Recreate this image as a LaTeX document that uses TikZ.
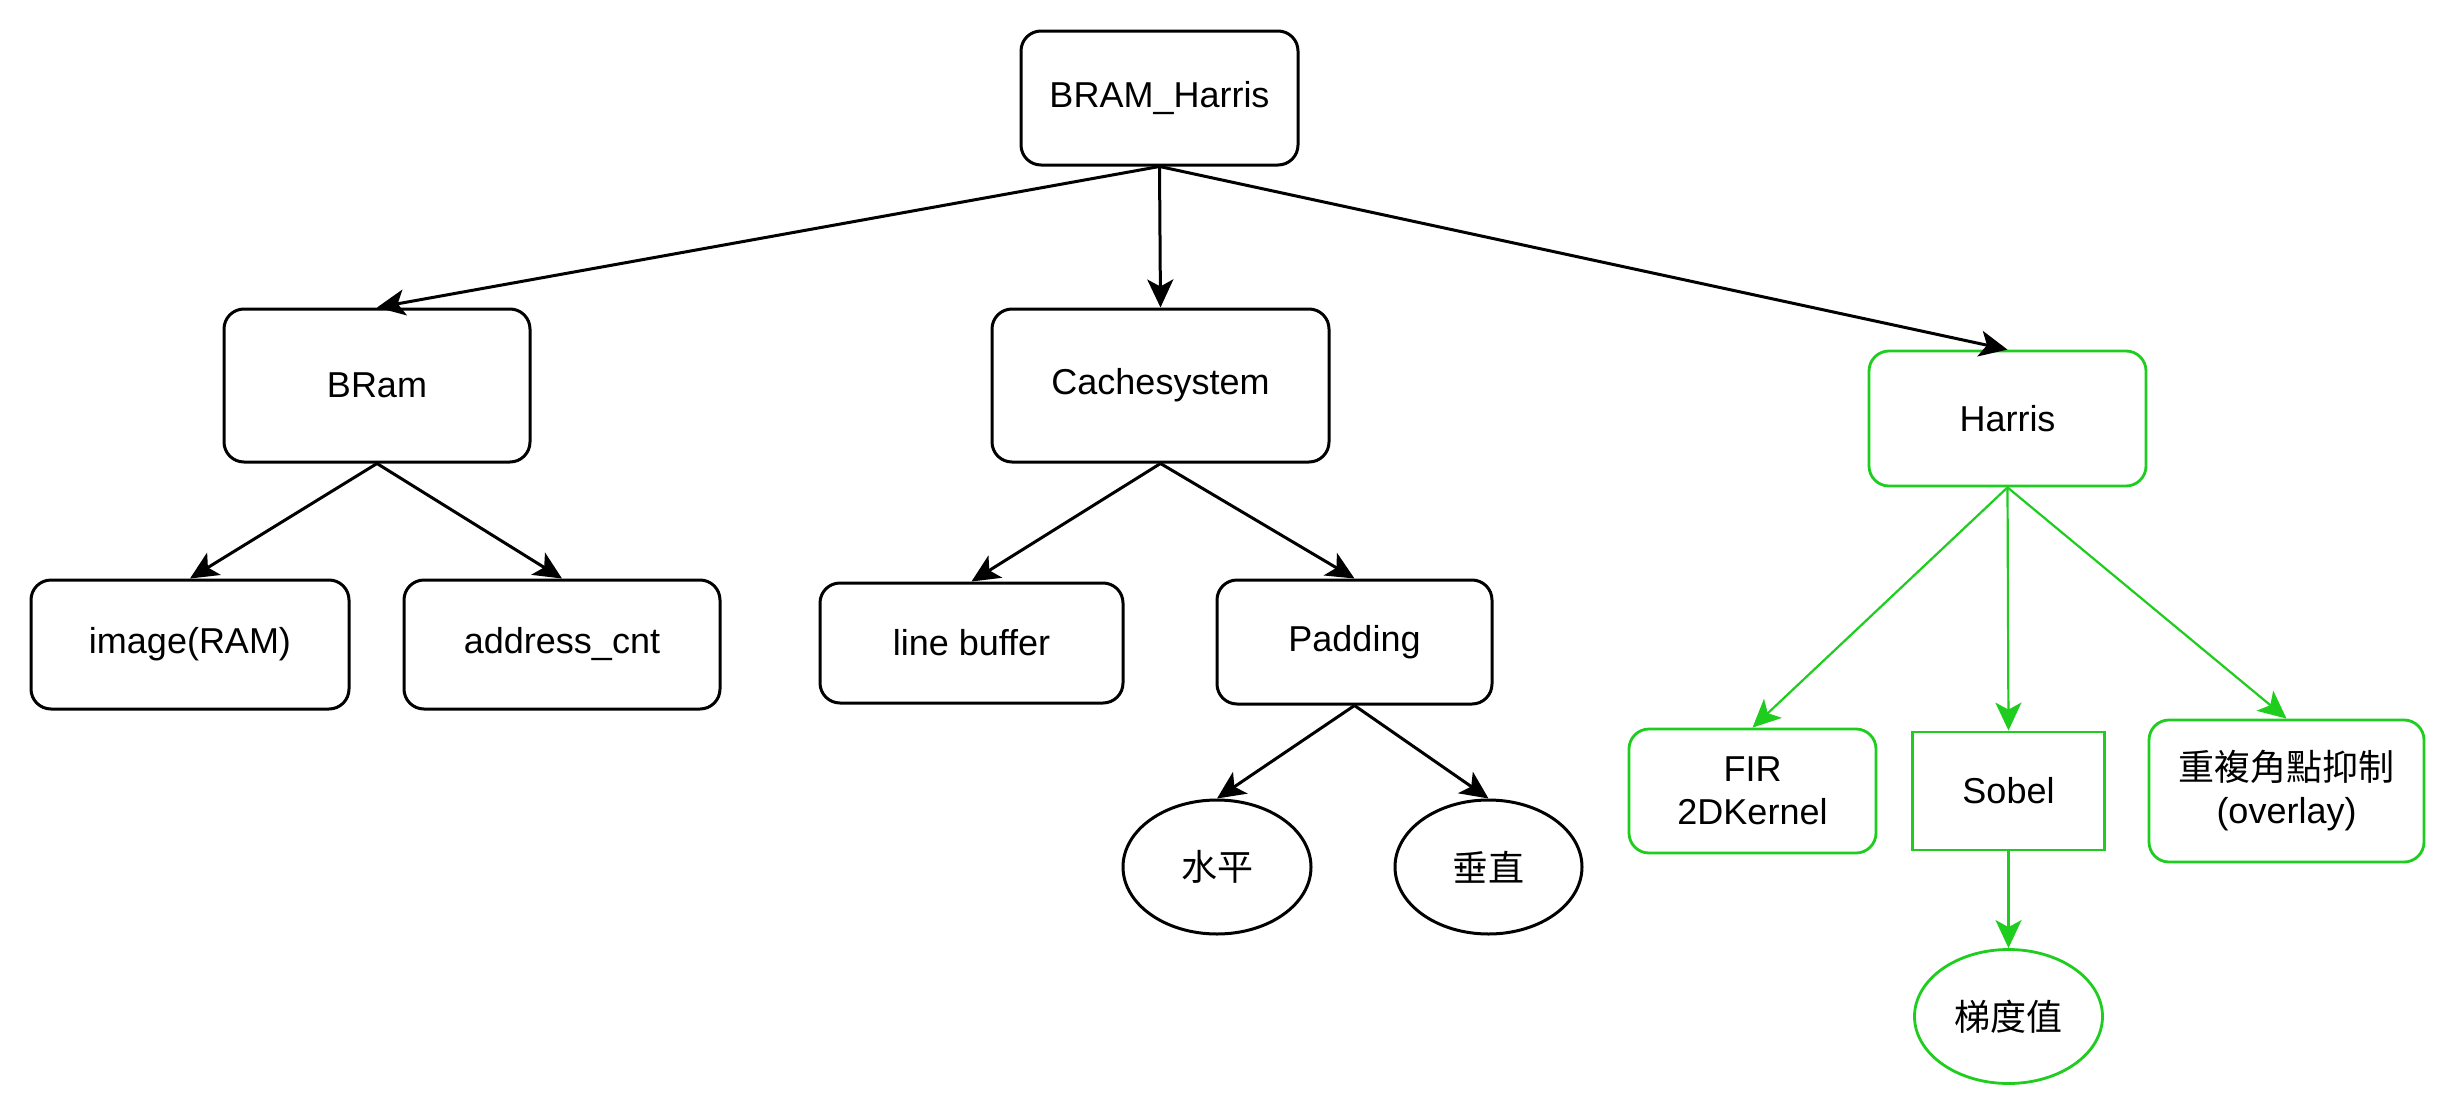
\documentclass[tikz,border=0pt]{standalone}
\usepackage{fontspec}
\setmainfont{Liberation Sans}
\newfontfamily\cjk{Noto Sans CJK TC}
\usetikzlibrary{arrows.meta,shapes.geometric}
\definecolor{hgreen}{RGB}{30,205,30}
\tikzset{
  base/.style={font=\fontsize{18}{21.5}\selectfont, align=center, inner sep=0pt, text=black},
  rbox/.style={base, draw=black, line width=1.5pt, rounded corners=10pt},
  gbox/.style={base, draw=hgreen, line width=1.4pt, rounded corners=10pt},
  gsq/.style={base, draw=hgreen, line width=1.4pt},
  bell/.style={base, ellipse, draw=black, line width=1.5pt},
  gell/.style={base, ellipse, draw=hgreen, line width=1.4pt},
  barrow/.style={draw=black, line width=1.5pt, -{Stealth[length=14pt,width=13pt,inset=3.5pt]}},
  garrow/.style={draw=hgreen, line width=1.1pt, -{Stealth[length=14pt,width=13pt,inset=3.5pt]}},
}
\begin{document}
\begin{tikzpicture}[x=0.5pt,y=-0.5pt]
\useasboundingbox (0,0) rectangle (2459,1119);
\node[rbox, minimum width=138.5pt, minimum height=67pt] (top) at (1159.5,98) {BRAM\_Harris};
\node[rbox, minimum width=153pt, minimum height=76.5pt] (bram) at (377,385.5) {BRam};
\node[rbox, minimum width=168.5pt, minimum height=76.5pt] (cache) at (1160.5,385.5) {Cachesystem};
\node[gbox, minimum width=138.5pt, minimum height=67.5pt] (harris) at (2007.5,418.5) {Harris};
\node[rbox, minimum width=159pt, minimum height=64.5pt] (img) at (190,644.5) {image(RAM)};
\node[rbox, minimum width=158pt, minimum height=64.5pt] (addr) at (562,644.5) {address\_cnt};
\node[rbox, minimum width=151.5pt, minimum height=60pt] (lbuf) at (971.5,643) {line buffer};
\node[rbox, minimum width=137.5pt, minimum height=62pt] (pad) at (1354.5,642) {Padding};
\node[bell, minimum width=94pt, minimum height=67pt] (hor) at (1217,867) {\cjk 水平};
\node[bell, minimum width=93.5pt, minimum height=67pt] (ver) at (1488.5,867) {\cjk 垂直};
\node[gbox, minimum width=123.5pt, minimum height=62pt] (fir) at (1752.5,791) {FIR\\2DKernel};
\node[gsq, minimum width=96pt, minimum height=59pt] (sobel) at (2008.5,791) {Sobel};
\node[gbox, minimum width=137.5pt, minimum height=71pt] (nms) at (2286.5,791) {{\cjk 重複角點抑制}\\(overlay)};
\node[gell, minimum width=94pt, minimum height=67pt] (grad) at (2008.5,1016.5) {\cjk 梯度值};
\draw[barrow] (top.south) -- (bram.north);
\draw[barrow] (top.south) -- (cache.north);
\draw[barrow] (top.south) -- (harris.north);
\draw[barrow] (bram.south) -- (img.north);
\draw[barrow] (bram.south) -- (addr.north);
\draw[barrow] (cache.south) -- (lbuf.north);
\draw[barrow] (cache.south) -- (pad.north);
\draw[barrow] (pad.south) -- (hor.north);
\draw[barrow] (pad.south) -- (ver.north);
\draw[garrow] (harris.south) -- (fir.north);
\draw[garrow] (harris.south) -- (sobel.north);
\draw[garrow] (harris.south) -- (nms.north);
\draw[garrow] (sobel.south) -- (grad.north);
\end{tikzpicture}
\end{document}
